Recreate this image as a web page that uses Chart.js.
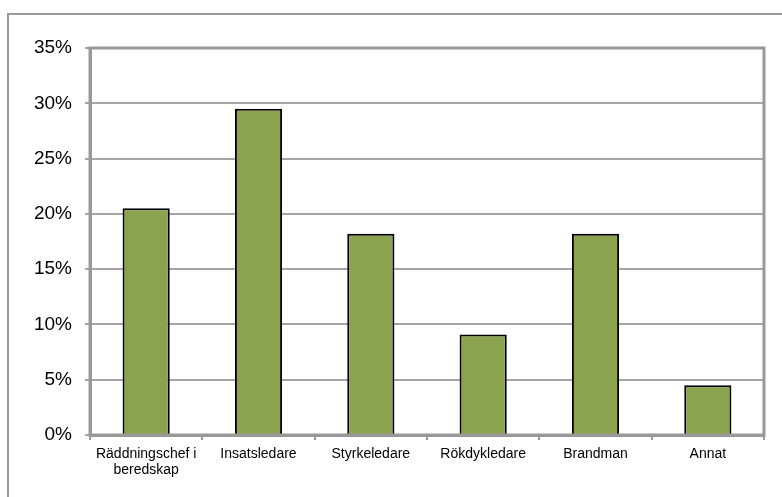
<!DOCTYPE html>
<html>
<head>
<meta charset="utf-8">
<script src="https://cdn.jsdelivr.net/npm/chart.js@4/dist/chart.umd.min.js"></script>
<style>
    html, body { margin: 0; padding: 0; background: #fff; }
    #wrap { width: 782px; height: 497px; position: relative; }
</style>
</head>
<body>
<div id="wrap"><canvas id="rolesChart" width="782" height="497"></canvas></div>
<script>
// Data
const categories = [['Räddningschef i', 'beredskap'], 'Insatsledare', 'Styrkeledare', 'Rökdykledare', 'Brandman', 'Annat'];
const shares = [20.5, 29.5, 18.2, 9.1, 18.2, 4.5];
const yTicks = [0, 5, 10, 15, 20, 25, 30, 35];

const gridGray = '#a5a5a5';
const frameGray = '#999999';

// Outer frame and the plot-area frame
const framePlugin = {
    id: 'frames',
    beforeDraw(chart) {
        const c = chart.ctx;
        c.save();
        c.strokeStyle = frameGray;
        c.lineWidth = 2;
        c.strokeRect(8, 14, 820, 520);
        c.restore();
    },
    afterDatasetsDraw(chart) {
        const a = chart.chartArea;
        const c = chart.ctx;
        c.save();
        c.strokeStyle = frameGray;
        c.lineWidth = 3;
        c.strokeRect(a.left, a.top, a.right - a.left, a.bottom - a.top);
        c.restore();
    }
};

const ctx = document.getElementById('rolesChart').getContext('2d');
new Chart(ctx, {
    type: 'bar',
    data: {
        labels: categories,
        datasets: [{
            data: shares,
            backgroundColor: '#8ba34e',
            borderColor: '#000000',
            borderWidth: 2,
            borderSkipped: 'bottom',
            categoryPercentage: 0.42,
            barPercentage: 1
        }]
    },
    options: {
        responsive: false,
        animation: false,
        devicePixelRatio: 1,
        layout: { padding: { left: 0, top: 48, right: 18, bottom: 0 } },
        plugins: {
            legend: { display: false },
            tooltip: { enabled: false }
        },
        scales: {
            x: {
                afterFit(scale) { scale.height = 62; },
                grid: {
                    drawOnChartArea: false,
                    color: frameGray,
                    lineWidth: 2,
                    tickLength: 5
                },
                border: { color: frameGray, width: 3 },
                ticks: {
                    color: '#000',
                    padding: 6,
                    maxRotation: 0,
                    font: { family: 'Liberation Sans, Arial, sans-serif', size: 14, lineHeight: 1.15 }
                }
            },
            y: {
                min: 0,
                max: 35,
                afterFit(scale) { scale.width = 90; },
                afterBuildTicks(scale) { scale.ticks = yTicks.map(v => ({ value: v })); },
                grid: {
                    color: gridGray,
                    lineWidth: 2,
                    tickLength: 5
                },
                border: { color: frameGray, width: 3 },
                ticks: {
                    color: '#000',
                    padding: 13,
                    font: { family: 'Liberation Sans, Arial, sans-serif', size: 19 },
                    callback: v => v + '%'
                }
            }
        }
    },
    plugins: [framePlugin]
});
</script>
</body>
</html>
